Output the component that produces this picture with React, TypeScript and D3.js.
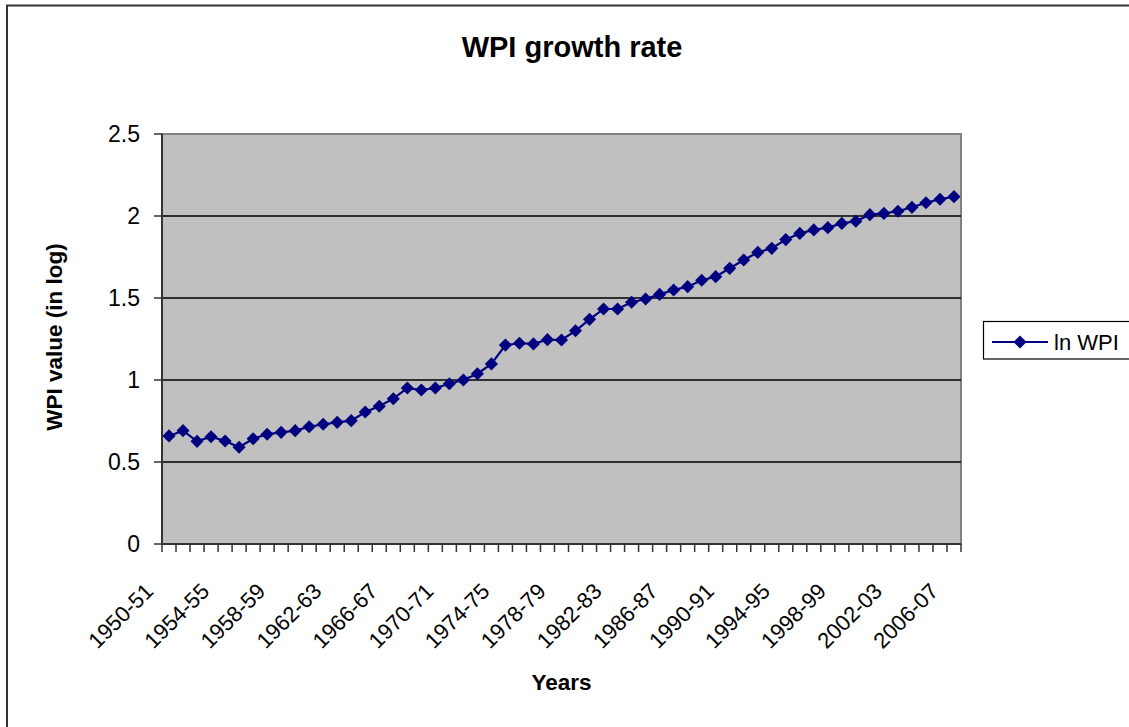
import React from "react";
import * as d3 from "d3";

// Fiscal years on the category axis
const years: string[] = [
  "1950-51", "1951-52", "1952-53", "1953-54", "1954-55", "1955-56", "1956-57", "1957-58",
  "1958-59", "1959-60", "1960-61", "1961-62", "1962-63", "1963-64", "1964-65", "1965-66",
  "1966-67", "1967-68", "1968-69", "1969-70", "1970-71", "1971-72", "1972-73", "1973-74",
  "1974-75", "1975-76", "1976-77", "1977-78", "1978-79", "1979-80", "1980-81", "1981-82",
  "1982-83", "1983-84", "1984-85", "1985-86", "1986-87", "1987-88", "1988-89", "1989-90",
  "1990-91", "1991-92", "1992-93", "1993-94", "1994-95", "1995-96", "1996-97", "1997-98",
  "1998-99", "1999-00", "2000-01", "2001-02", "2002-03", "2003-04", "2004-05", "2005-06",
  "2006-07",
];

// Log of the wholesale price index, one value per year
const lnWpi: number[] = [
  0.659, 0.691, 0.626, 0.654, 0.628, 0.590, 0.642, 0.669, 0.681, 0.691,
  0.715, 0.730, 0.742, 0.752, 0.805, 0.840, 0.886, 0.951, 0.939, 0.951,
  0.977, 1.000, 1.038, 1.098, 1.213, 1.224, 1.220, 1.246, 1.244, 1.300,
  1.370, 1.433, 1.433, 1.474, 1.494, 1.522, 1.549, 1.569, 1.608, 1.630,
  1.681, 1.732, 1.778, 1.803, 1.856, 1.894, 1.915, 1.929, 1.955, 1.968,
  2.008, 2.016, 2.029, 2.053, 2.081, 2.102, 2.118,
];

const yTicks: number[] = [0, 0.5, 1, 1.5, 2, 2.5];
const labelEvery = 4;

const W = 1129;
const H = 727;
const plot = { left: 162, right: 961, top: 134, bottom: 544 };
const FONT = "'Liberation Sans', Arial, Helvetica, sans-serif";
const NAVY = "#000080";

export default function App() {
  const x = d3.scaleBand<string>().domain(years).range([plot.left, plot.right]).padding(0);
  const y = d3.scaleLinear().domain([0, 2.5]).range([plot.bottom, plot.top]);
  const bw = x.bandwidth();
  const cx = (i: number) => (x(years[i]) as number) + bw / 2;

  const line = d3
    .line<number>()
    .x((_, i) => cx(i))
    .y((d) => y(d));

  const diamond = d3.symbol().type(d3.symbolDiamond2).size(110)() as string;
  const boundaries = d3.range(years.length + 1).map((i) => plot.left + i * bw);

  return (
    <svg
      width={W}
      height={H}
      style={{ position: "absolute", left: 0, top: 0, background: "#fff" }}
      fontFamily={FONT}
    >
      {/* chart frame */}
      <rect x={7} y={5.5} width={W + 20} height={H + 20} fill="#fff" stroke="#333" strokeWidth={2} />

      {/* title */}
      <text x={572} y={57} textAnchor="middle" fontSize={29} fontWeight="bold">
        WPI growth rate
      </text>

      {/* plot area */}
      <rect
        x={plot.left}
        y={plot.top}
        width={plot.right - plot.left}
        height={plot.bottom - plot.top}
        fill="#C0C0C0"
        stroke="#808080"
        strokeWidth={2}
      />

      {/* gridlines */}
      {yTicks
        .filter((t) => t > 0 && t < 2.5)
        .map((t) => (
          <line key={t} x1={plot.left} x2={plot.right} y1={y(t)} y2={y(t)} stroke="#000" strokeWidth={1.3} />
        ))}

      {/* y axis */}
      <line x1={plot.left} x2={plot.left} y1={plot.top} y2={plot.bottom} stroke="#333" strokeWidth={2} />
      {yTicks.map((t) => (
        <g key={t}>
          <line x1={plot.left - 8} x2={plot.left} y1={y(t)} y2={y(t)} stroke="#333" strokeWidth={1.5} />
          <text x={140} y={y(t)} dy="0.36em" textAnchor="end" fontSize={23}>
            {d3.format("")(t)}
          </text>
        </g>
      ))}
      <text
        transform={`translate(62,${(plot.top + plot.bottom) / 2 - 2}) rotate(-90)`}
        textAnchor="middle"
        fontSize={22.5}
        fontWeight="bold"
      >
        WPI value (in log)
      </text>

      {/* x axis */}
      <line x1={plot.left} x2={plot.right} y1={plot.bottom} y2={plot.bottom} stroke="#333" strokeWidth={2} />
      {boundaries.map((b, i) => (
        <line key={i} x1={b} x2={b} y1={plot.bottom} y2={plot.bottom + 8} stroke="#333" strokeWidth={1.5} />
      ))}
      {years.map((yr, i) =>
        i % labelEvery === 0 ? (
          <text
            key={yr}
            transform={`translate(${cx(i) - 20},587) rotate(-45)`}
            dy="0.36em"
            textAnchor="end"
            fontSize={22}
          >
            {yr}
          </text>
        ) : null
      )}
      <text x={(plot.left + plot.right) / 2} y={690} textAnchor="middle" fontSize={22.5} fontWeight="bold">
        Years
      </text>

      {/* series */}
      <path d={line(lnWpi) as string} fill="none" stroke={NAVY} strokeWidth={2.2} />
      {lnWpi.map((v, i) => (
        <path key={i} d={diamond} transform={`translate(${cx(i)},${y(v)})`} fill={NAVY} />
      ))}

      {/* legend */}
      <rect x={983.5} y={321.5} width={170} height={37.5} fill="#fff" stroke="#000" strokeWidth={1.2} />
      <line x1={992} x2={1048} y1={342} y2={342} stroke={NAVY} strokeWidth={2} />
      <path d={diamond} transform="translate(1020,342)" fill={NAVY} />
      <text x={1054} y={342} dy="0.36em" fontSize={22}>
        ln WPI
      </text>
    </svg>
  );
}
